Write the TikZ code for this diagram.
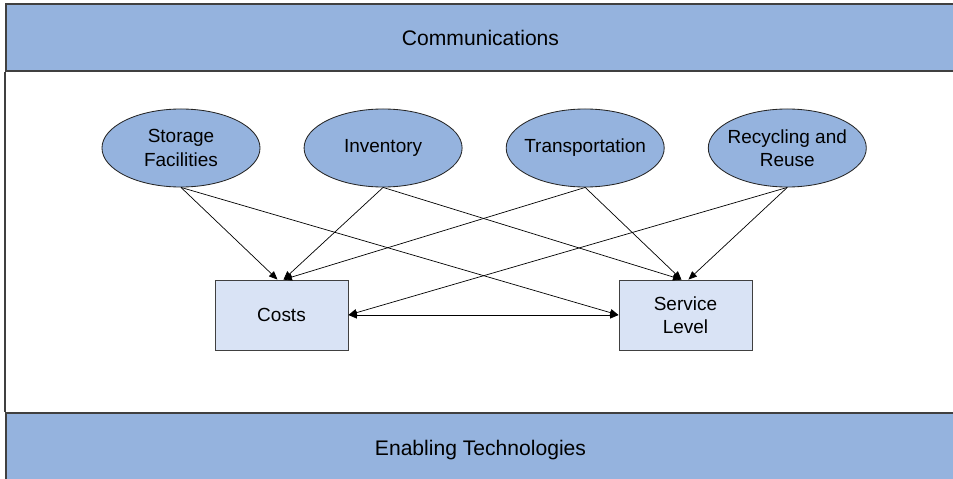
\documentclass[tikz,border=0pt]{standalone}
\usepackage{fontspec}
\setmainfont{Liberation Sans}
\usepackage{xcolor}
\definecolor{cBand}{HTML}{95B3DE}
\definecolor{cBox}{HTML}{D9E3F5}
\definecolor{cEdge}{HTML}{404040}
\usepackage{tikz}
\usetikzlibrary{positioning,arrows.meta,shapes.geometric}
\tikzset{
  node-band/.style={draw=cEdge,line width=1pt,fill=cBand,inner sep=0pt,
    minimum width=23.725cm,minimum height=1.675cm,text depth=0pt,
    font=\fontsize{15}{18}\selectfont},
  node-ell/.style={draw=black!85,line width=0.6pt,fill=cBand,ellipse,
    inner xsep=-0.2cm,inner ysep=0pt,minimum width=3.95cm,minimum height=1.95cm,
    align=center,font=\fontsize{13.5}{16.5}\selectfont},
  node-box/.style={draw=cEdge,line width=0.6pt,fill=cBox,inner sep=0pt,
    minimum width=3.325cm,minimum height=1.75cm,align=center,
    font=\fontsize{13.5}{16.5}\selectfont},
  arrow/.style={-{Triangle[length=6pt,width=5pt]},line width=0.5pt,draw=black},
  arrow-both/.style={{Triangle[length=6pt,width=5pt]}-{Triangle[length=6pt,width=5pt]},
    line width=0.5pt,draw=black},
  frame-line/.style={draw=cEdge,line width=1pt},
}

\begin{document}
\begin{tikzpicture}[x=0.025cm,y=-0.025cm,node distance=1.08cm]
  \useasboundingbox (0,0) rectangle (953,479);
  \node[node-band] (comm) at (480.5,37.5) {Communications};
  \node[node-band,minimum height=1.725cm] (tech) at (480.5,447.5) {Enabling Technologies};
  \draw[frame-line] (comm.south west) -- (tech.north west);

  \node[node-ell] (stor) at (181,148) {Storage\\Facilities};
  \node[node-ell,right=of stor] (inv) {Inventory};
  \node[node-ell,right=of inv] (trans) {Transportation};
  \node[node-ell,right=of trans] (recy) {Recycling and\\Reuse};
  \node[node-box] (cost) at (281.5,315) {Costs};
  \node[node-box,right=6.75cm of cost] (serv) {Service\\Level};

  \draw[arrow] (stor.south) -- ([xshift=-0.1cm]cost.north);
  \draw[arrow] (stor.south) -- (serv.west);
  \draw[arrow] (inv.south) -- ([xshift=0.05cm]cost.north);
  \draw[arrow] (inv.south) -- ([xshift=-0.1cm]serv.north);
  \draw[arrow] (trans.south) -- ([xshift=0.05cm]cost.north);
  \draw[arrow] (trans.south) -- ([xshift=-0.1cm]serv.north);
  \draw[arrow] (recy.south) -- (cost.east);
  \draw[arrow] (recy.south) -- ([xshift=0.075cm]serv.north);
  \draw[arrow-both] (cost) -- (serv);
\end{tikzpicture}
\end{document}
